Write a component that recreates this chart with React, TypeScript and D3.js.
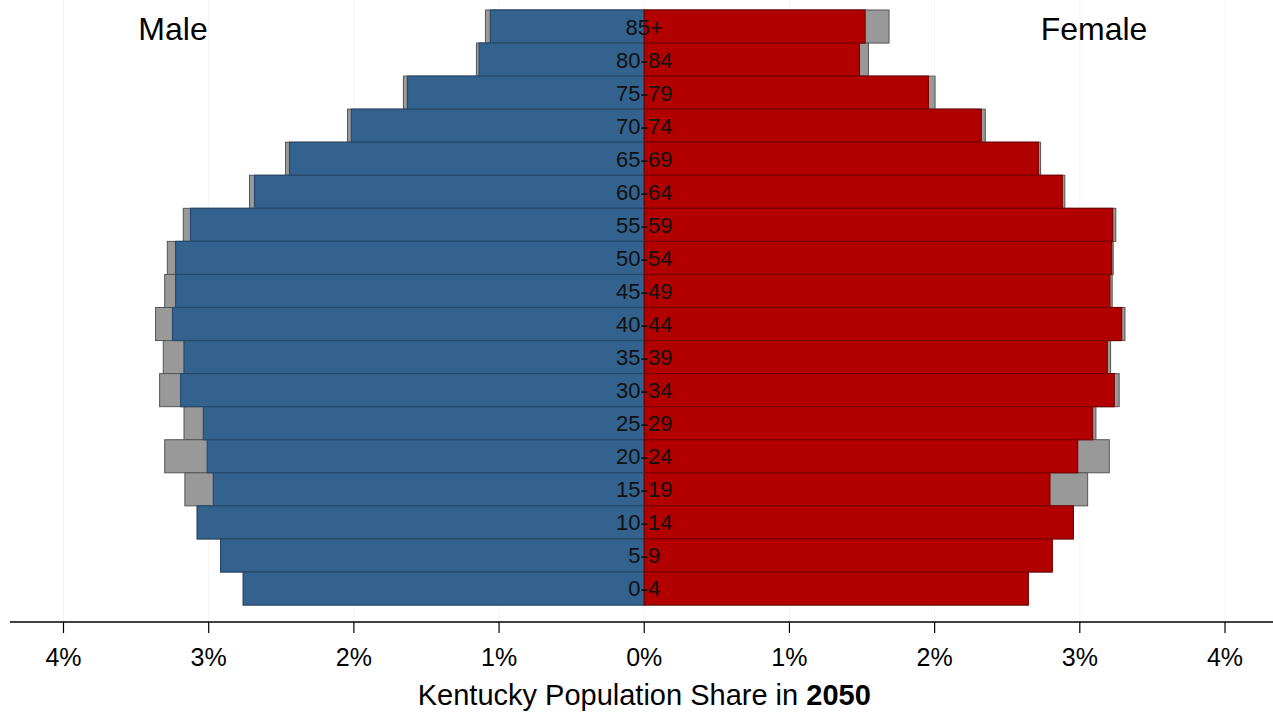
import React from "react";
import * as d3 from "d3";

const ageGroups = ["85+","80-84","75-79","70-74","65-69","60-64","55-59","50-54","45-49","40-44","35-39","30-34","25-29","20-24","15-19","10-14","5-9","0-4"];
const maleShare = [1.06,1.137,1.631,2.017,2.443,2.684,3.125,3.228,3.228,3.249,3.17,3.193,3.037,3.01,2.968,3.079,2.918,2.762];
const maleCompare = [1.094,1.156,1.659,2.044,2.471,2.719,3.175,3.285,3.303,3.366,3.313,3.338,3.17,3.303,3.164,3.079,2.918,2.762];
const femaleShare = [1.521,1.482,1.957,2.321,2.714,2.879,3.226,3.219,3.207,3.288,3.189,3.237,3.088,2.985,2.794,2.955,2.81,2.645];
const femaleCompare = [1.686,1.544,2.003,2.349,2.73,2.897,3.248,3.23,3.223,3.311,3.212,3.271,3.111,3.203,3.054,2.955,2.81,2.645];
const tickValues = [-4,-3,-2,-1,0,1,2,3,4];

const W = 1273, H = 715;
const FONT = "'Liberation Sans', Arial, Helvetica, sans-serif";

export default function App() {
  const x = d3.scaleLinear().domain([-4, 4]).range([63.5, 1225]);
  const y = d3.scaleBand<string>().domain(ageGroups).range([10, 605]).padding(0);
  const bw = y.bandwidth();
  const axisY = 622;
  const x0 = x(0);

  return (
    <svg width={W} height={H} style={{ position: "absolute", left: 0, top: 0, background: "#fff" }}>
      {tickValues.map((t) => (
        <line key={"g" + t} x1={x(t)} x2={x(t)} y1={0} y2={axisY} stroke="#f3f3f3" strokeWidth={1} />
      ))}
      {ageGroups.map((g, i) => (
        <g key={g}>
          <rect x={x(-maleCompare[i])} y={y(g)} width={x0 - x(-maleCompare[i])} height={bw} fill="#999999" stroke="#555" strokeWidth={1} />
          <rect x={x0} y={y(g)} width={x(femaleCompare[i]) - x0} height={bw} fill="#999999" stroke="#555" strokeWidth={1} />
        </g>
      ))}
      {ageGroups.map((g, i) => (
        <g key={"c" + g}>
          <rect x={x(-maleShare[i])} y={y(g)} width={x0 - x(-maleShare[i])} height={bw} fill="#33628e" stroke="#274a6c" strokeWidth={1.2} />
          <rect x={x0} y={y(g)} width={x(femaleShare[i]) - x0} height={bw} fill="#b20000" stroke="#7a0000" strokeWidth={1.2} />
        </g>
      ))}
      {ageGroups.map((g) => (
        <text key={"t" + g} x={x0} y={(y(g) as number) + bw / 2 + 8} textAnchor="middle" fontFamily={FONT} fontSize={22} fill="#111">
          {g}
        </text>
      ))}
      <text x={173} y={40} textAnchor="middle" fontFamily={FONT} fontSize={32} fill="#000">Male</text>
      <text x={1094} y={40} textAnchor="middle" fontFamily={FONT} fontSize={32} fill="#000">Female</text>
      <line x1={10} x2={W} y1={axisY} y2={axisY} stroke="#000" strokeWidth={1.5} />
      {tickValues.map((t) => (
        <g key={"k" + t}>
          <line x1={x(t)} x2={x(t)} y1={axisY} y2={axisY + 11} stroke="#000" strokeWidth={1.2} />
          <text x={x(t)} y={666} textAnchor="middle" fontFamily={FONT} fontSize={25} fill="#000">
            {Math.abs(t) + "%"}
          </text>
        </g>
      ))}
      <text x={x0} y={705} textAnchor="middle" fontFamily={FONT} fontSize={29} fill="#000">
        Kentucky Population Share in <tspan fontWeight="bold">2050</tspan>
      </text>
    </svg>
  );
}
